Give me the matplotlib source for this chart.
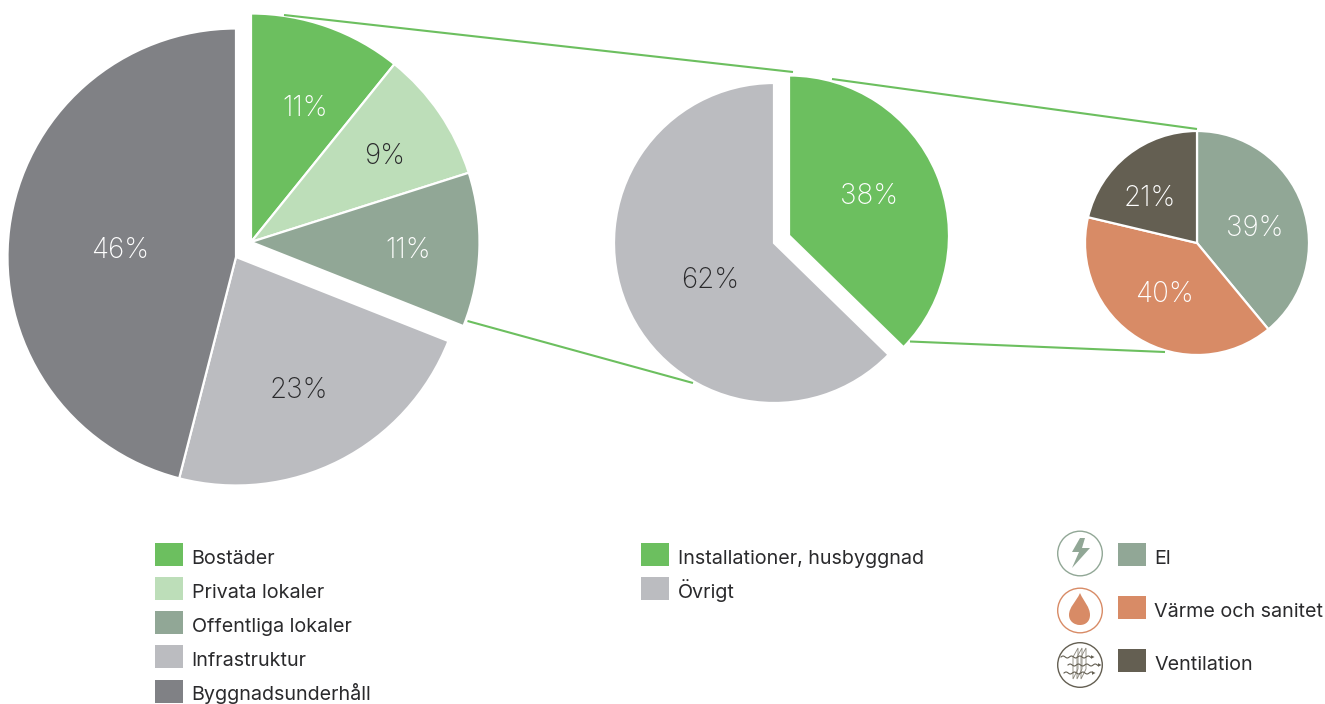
import matplotlib
matplotlib.use('Agg')
import matplotlib.pyplot as plt
from matplotlib.patches import Circle, Polygon, PathPatch, Rectangle
from matplotlib.path import Path
import numpy as np

plt.rcParams['font.family'] = ['Inter', 'DejaVu Sans']

W, H = 1325, 704

GREEN = '#6CBF5F'
LIGHT_GREEN = '#BDDEB9'
SAGE = '#91A796'
LIGHT_GRAY = '#BBBCC0'
DARK_GRAY = '#808185'
ORANGE = '#D88B66'
BROWN = '#645F52'
INK = '#2A2A2C'

# main pie: printed labels, and the shares as the slices are really drawn
main_labels = ['Bostäder', 'Privata lokaler', 'Offentliga lokaler', 'Infrastruktur', 'Byggnadsunderhåll']
main_pct = [11, 9, 11, 23, 46]
main_shares = [10.8, 9.3, 10.9, 23.0, 46.0]
main_colors = [GREEN, LIGHT_GREEN, SAGE, LIGHT_GRAY, DARK_GRAY]
main_text = ['white', INK, 'white', INK, 'white']

# middle pie
mid_labels = ['Installationer, husbyggnad', 'Övrigt']
mid_pct = [38, 62]
mid_shares = [37.3, 62.7]
mid_colors = [GREEN, LIGHT_GRAY]
mid_text = ['white', INK]

# small pie
small_labels = ['El', 'Värme och sanitet', 'Ventilation']
small_pct = [39, 40, 21]
small_shares = [39.0, 39.7, 21.3]
small_colors = [SAGE, ORANGE, BROWN]
small_text = ['white', 'white', 'white']


def py(y):
    # picture pixels count from the top, the axes from the bottom
    return H - y


def draw_pie(shares, pct, colors, center, radius, text_pos, text_colors, shifted=None, shift=(0, 0)):
    wedges, _ = ax.pie(shares, colors=colors, center=(center[0], py(center[1])), radius=radius,
                       startangle=90, counterclock=False,
                       wedgeprops={'edgecolor': 'white', 'linewidth': 1.6})
    if shifted:
        for i in shifted:
            wedges[i].set_center((center[0] + shift[0], py(center[1] + shift[1])))
    for v, pos, c in zip(pct, text_pos, text_colors):
        ax.text(pos[0], py(pos[1]), f'{v}%', color=c, fontsize=20, fontweight='light',
                ha='center', va='center')


def legend_row(x, y, color, label, baseline):
    ax.add_patch(Rectangle((x, py(y + 23)), 28, 23, fc=color, ec='none'))
    ax.text(x + 36.5, py(baseline), label, color=INK, fontsize=14.2, ha='left', va='baseline')


fig = plt.figure(figsize=(W / 100, H / 100), dpi=100)
ax = fig.add_axes([0, 0, 1, 1])

draw_pie(main_shares, main_pct, main_colors, (236, 257), 228.5,
         [(305, 108), (385, 157), (408, 250), (299, 390), (120, 250)], main_text,
         shifted=[0, 1, 2], shift=(15, -15))
draw_pie(mid_shares, mid_pct, mid_colors, (774, 243), 160,
         [(869, 197), (710, 281)], mid_text, shifted=[0], shift=(15, -7.5))
draw_pie(small_shares, small_pct, small_colors, (1197, 243), 112,
         [(1255, 229), (1164, 295), (1150, 198)], small_text)

# green connector lines between the pies
connectors = [((284, 15), (793, 72)), ((832, 79), (1197, 129)),
              ((467.5, 321), (693, 383)), ((910, 341.5), (1165, 352))]
for a, b in connectors:
    ax.plot([a[0], b[0]], [py(a[1]), py(b[1])], color=GREEN, lw=1.5, solid_capstyle='butt')

# legends
for i, (lab, col) in enumerate(zip(main_labels, main_colors)):
    legend_row(155, 542.7 + i * 34.2, col, lab, 563.5 + i * 34.2)
for i, (lab, col) in enumerate(zip(mid_labels, mid_colors)):
    legend_row(641, 542.7 + i * 34.2, col, lab, 563.5 + i * 34.2)
for lab, col, y, base in zip(small_labels, small_colors, [542.7, 596, 649], [563.5, 617, 670.5]):
    legend_row(1118, y, col, lab, base)

# icons next to the right legend
cx = 1080
ax.add_patch(Circle((cx, py(553.5)), 22.3, fc='none', ec=SAGE, lw=1))
ax.add_patch(Circle((cx, py(610.5)), 22.3, fc='none', ec=ORANGE, lw=1))
ax.add_patch(Circle((cx, py(665)), 22.3, fc='none', ec=BROWN, lw=1))

bolt = [(1080, 538), (1072, 552), (1079, 552), (1072, 568), (1090, 548), (1082, 548), (1085, 538)]
ax.add_patch(Polygon([(x, py(y)) for x, y in bolt], fc=SAGE, ec='none'))

drop_verts = [(1080, 593), (1076, 602), (1069, 607), (1069, 615),
              (1069, 621), (1074, 625), (1080, 625),
              (1086, 625), (1090, 621), (1090, 615),
              (1090, 607), (1084, 602), (1080, 593), (1080, 593)]
drop_codes = [Path.MOVETO] + [Path.CURVE4] * 12 + [Path.CLOSEPOLY]
ax.add_patch(PathPatch(Path([(x, py(y)) for x, y in drop_verts], drop_codes), fc=ORANGE, ec='none'))

for x0 in (1073, 1077, 1081):
    ax.add_patch(Polygon([(x0, py(657)), (x0 + 5, py(648)), (x0 + 5, py(669)), (x0, py(679))],
                         fc='none', ec='#8A867B', lw=0.6))
for x0, x1, y0 in [(1061, 1091, 657), (1068, 1098, 665), (1064, 1092, 673)]:
    xs = np.linspace(x0, x1, 40)
    ax.plot(xs, py(y0) + 1.0 * np.sin((xs - x0) * 0.75), color=BROWN, lw=0.8)
    ax.add_patch(Polygon([(x1, py(y0 - 1.8)), (x1 + 3.5, py(y0)), (x1, py(y0 + 1.8))], fc=BROWN, ec='none'))

ax.set_xlim(0, W)
ax.set_ylim(0, H)
ax.set_aspect('auto')
ax.axis('off')

fig.savefig('out.png', dpi=100)
